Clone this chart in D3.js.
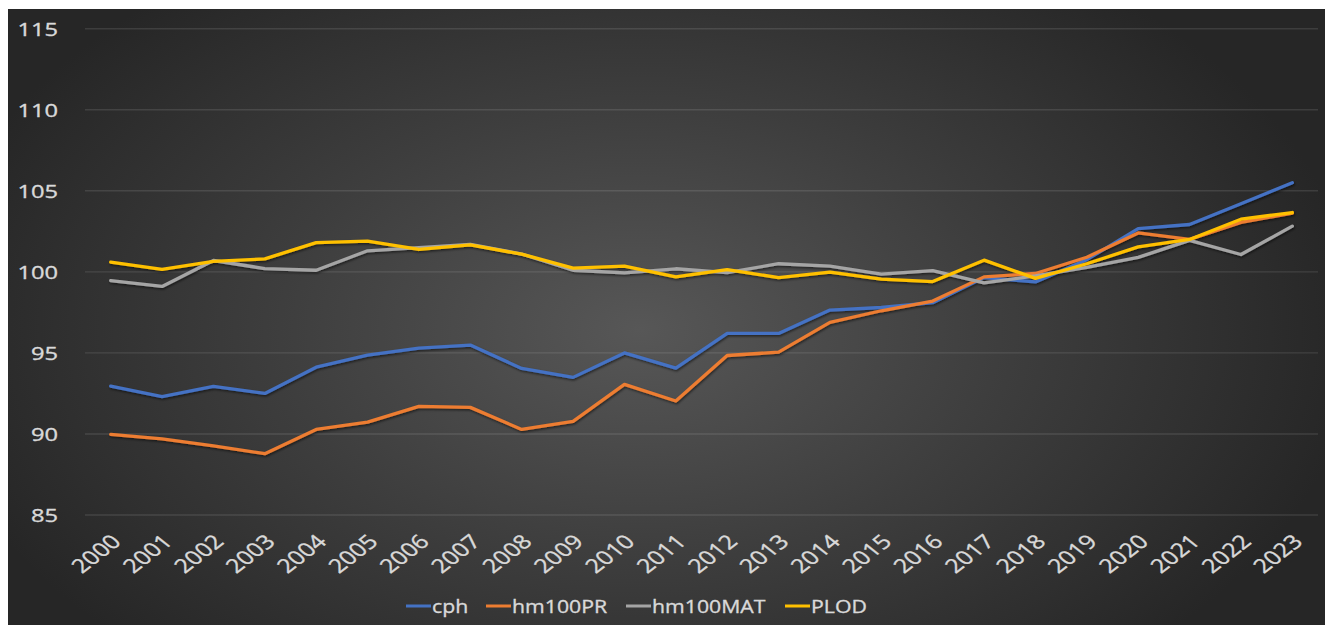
<!DOCTYPE html>
<html>
<head>
<meta charset="utf-8">
<script src="https://cdn.jsdelivr.net/npm/d3@7/dist/d3.min.js"></script>
<style>
  html, body { margin: 0; padding: 0; background: #ffffff; }
  svg { display: block; }
  text { font-family: "Open Sans", "Liberation Sans", sans-serif; fill: #d9d9d9; stroke: #d9d9d9; stroke-width: 0.35px; }
</style>
</head>
<body>
<svg id="chart" width="1325" height="625"></svg>
<script>
// Index series, 2000–2023
const years = ["2000","2001","2002","2003","2004","2005","2006","2007","2008","2009","2010","2011",
               "2012","2013","2014","2015","2016","2017","2018","2019","2020","2021","2022","2023"];

const cph       = [92.95, 92.3, 92.93, 92.5, 94.12, 94.86, 95.3, 95.48, 94.04, 93.49, 95.0, 94.06,
                   96.2, 96.2, 97.64, 97.8, 98.1, 99.65, 99.38, 100.75, 102.67, 102.92, 104.2, 105.5];
const hm100PR   = [89.97, 89.69, 89.27, 88.78, 90.28, 90.73, 91.7, 91.64, 90.28, 90.78, 93.06, 92.03,
                   94.84, 95.05, 96.88, 97.6, 98.2, 99.69, 99.9, 100.9, 102.4, 102.0, 103.05, 103.62];
const hm100MAT  = [99.46, 99.1, 100.7, 100.2, 100.1, 101.3, 101.5, 101.7, 101.1, 100.1, 99.94, 100.19,
                   99.95, 100.5, 100.35, 99.86, 100.08, 99.32, 99.75, 100.27, 100.89, 101.94, 101.07, 102.82];
const PLOD      = [100.6, 100.15, 100.64, 100.8, 101.8, 101.9, 101.38, 101.66, 101.09, 100.23, 100.35, 99.69,
                   100.14, 99.65, 99.98, 99.55, 99.4, 100.72, 99.6, 100.5, 101.54, 102.0, 103.25, 103.66];

const yTicks = [85, 90, 95, 100, 105, 110, 115];

const seriesNames  = ["cph", "hm100PR", "hm100MAT", "PLOD"];
const seriesValues = [cph, hm100PR, hm100MAT, PLOD];
const seriesColors = ["#4472c4", "#ed7d31", "#a5a5a5", "#ffc000"];

const svg = d3.select("#chart");
const W = 1325, H = 625;
const stretch = 1.28; // horizontal stretch of axis text

// Background panel with radial shading
const defs = svg.append("defs");
const grad = defs.append("radialGradient")
  .attr("id", "bg").attr("gradientUnits", "userSpaceOnUse")
  .attr("cx", 640).attr("cy", 330).attr("r", 720)
  .attr("gradientTransform", "translate(640,330) scale(1,0.62) translate(-640,-330)");
grad.append("stop").attr("offset", "0%").attr("stop-color", "#575757");
grad.append("stop").attr("offset", "50%").attr("stop-color", "#3e3e3e");
grad.append("stop").attr("offset", "100%").attr("stop-color", "#262626");

const shadow = defs.append("filter").attr("id", "shadow")
  .attr("x", "-5%").attr("y", "-20%").attr("width", "110%").attr("height", "140%");
shadow.append("feDropShadow").attr("dx", 0.8).attr("dy", 1.5).attr("stdDeviation", 1.2)
  .attr("flood-color", "#000").attr("flood-opacity", 0.55);

svg.append("rect").attr("x", 8).attr("y", 9).attr("width", W - 8).attr("height", H - 9)
  .attr("fill", "url(#bg)");

// Scales
const x = d3.scalePoint().domain(years).range([85, 1318]).padding(0.5);
const y = d3.scaleLinear().domain([85, 115]).range([515, 28.7]);

// Gridlines
svg.append("g").selectAll("line").data(yTicks).join("line")
  .attr("x1", 85).attr("x2", 1318)
  .attr("y1", d => y(d)).attr("y2", d => y(d))
  .attr("stroke", "#ffffff").attr("stroke-opacity", 0.11).attr("stroke-width", 1.4);

// Y axis labels
const yAxis = d3.axisLeft(y).tickValues(yTicks).tickSize(0).tickPadding(0);
const gy = svg.append("g").attr("transform", "translate(58,0)").call(yAxis);
gy.select(".domain").remove();
gy.selectAll(".tick text")
  .attr("x", 0).attr("dy", "0.36em")
  .attr("text-anchor", "end")
  .attr("font-size", 18.5)
  .attr("fill", "#d9d9d9")
  .attr("font-family", "'Open Sans', sans-serif")
  .attr("transform", `scale(${stretch},1)`);

// X axis labels (rotated)
const xAxis = d3.axisBottom(x).tickSize(0).tickPadding(0);
const gx = svg.append("g").attr("transform", "translate(0,538)").call(xAxis);
gx.select(".domain").remove();
gx.selectAll(".tick text")
  .attr("x", 0).attr("y", 0).attr("dy", "0.35em")
  .attr("text-anchor", "end")
  .attr("font-size", 19.5)
  .attr("fill", "#d9d9d9")
  .attr("font-family", "'Open Sans', sans-serif")
  .attr("transform", `translate(5,0) scale(${stretch},1) rotate(-45)`);

// Series lines
const line = d3.line().x((d, i) => x(years[i])).y(d => y(d));
svg.append("g").attr("filter", "url(#shadow)").selectAll("path")
  .data(seriesValues).join("path")
  .attr("d", d => line(d))
  .attr("fill", "none")
  .attr("stroke", (d, i) => seriesColors[i])
  .attr("stroke-width", 3.3)
  .attr("stroke-linejoin", "round")
  .attr("stroke-linecap", "round");

// Legend
const legendX = [406, 486, 626, 785];
const lg = svg.append("g").attr("transform", "translate(0,606)");
const items = lg.selectAll("g").data(seriesNames).join("g")
  .attr("transform", (d, i) => `translate(${legendX[i]},0)`);
items.append("line").attr("x1", 0).attr("x2", 25).attr("y1", 0).attr("y2", 0)
  .attr("stroke", (d, i) => seriesColors[i]).attr("stroke-width", 3);
items.append("text").text(d => d)
  .attr("x", 0).attr("dy", "0.35em")
  .attr("font-size", 19)
  .attr("transform", "translate(26,0) scale(1.12,1)");
</script>
</body>
</html>
